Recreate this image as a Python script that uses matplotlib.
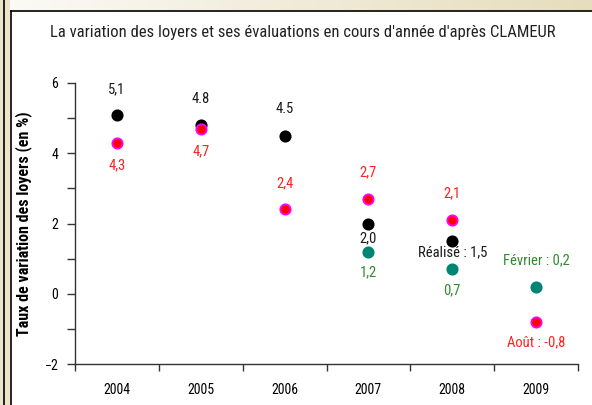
import numpy as np
import matplotlib
matplotlib.use("Agg")
import matplotlib.pyplot as plt
from matplotlib.lines import Line2D
from matplotlib.patches import Rectangle

plt.rcParams['font.family'] = ['Roboto Condensed', 'DejaVu Sans']

# data
years = ["2004", "2005", "2006", "2007", "2008", "2009"]
realise = [5.1, 4.8, 4.5, 2.0, 1.5, None]
aout = [4.3, 4.7, 2.4, 2.7, 2.1, -0.8]
fevrier = [None, None, None, 1.2, 0.7, 0.2]

realise_labels = ["5,1", "4.8", "4.5", "2,0", "Réalisé : 1,5", None]
aout_labels = ["4,3", "4,7", "2,4", "2,7", "2,1", "Août : -0,8"]
fevrier_labels = [None, None, None, "1,2", "0,7", "Février : 0,2"]

# label offsets (points): positive = above
realise_off = [18, 19, 19, -11, -8, 0]
aout_off = [-16, -16, 19, 19, 19, -15]
fevrier_off = [0, 0, 0, -15, -15, 19]

W, H = 592, 405
fig = plt.figure(figsize=(W / 100, H / 100), dpi=100)
fig.patch.set_facecolor("white")

# frame decoration: beige strip left, gradient bar top
beige = "#ece5cc"
fig.patches.append(Rectangle((0, 0), 10 / W, 1, transform=fig.transFigure,
                             facecolor=beige, edgecolor="none", zorder=0))
grad_ax = fig.add_axes([10 / W, 1 - 11 / H, 1 - 10 / W, 11 / H])
grad = np.linspace(0, 1, 256).reshape(1, -1)
cmap = matplotlib.colors.LinearSegmentedColormap.from_list("bg", ["#fbfaf5", "#e6ddbd"])
grad_ax.imshow(grad, aspect="auto", cmap=cmap, extent=[0, 1, 0, 1])
grad_ax.set_axis_off()
fig.lines.append(Line2D([3.5 / W, 3.5 / W], [0, 1], transform=fig.transFigure,
                        color="black", lw=1.2))
fig.lines.append(Line2D([10.5 / W, 10.5 / W], [0, 1 - 11 / H], transform=fig.transFigure,
                        color="black", lw=1.2))
fig.lines.append(Line2D([10.5 / W, 1], [1 - 11 / H, 1 - 11 / H], transform=fig.transFigure,
                        color="black", lw=1.2))

ax = fig.add_axes([75 / W, 1 - 364 / H, (578 - 75) / W, (364 - 83) / H])
x = np.arange(len(years))


def plot_series(vals, labels, offs, face, edge, tcolor):
    xs = [i for i, v in enumerate(vals) if v is not None]
    ys = [v for v in vals if v is not None]
    ax.scatter(xs, ys, s=55, c=face, edgecolors=edge, linewidths=1.3, zorder=3)
    for i, v in enumerate(vals):
        if v is None or labels[i] is None:
            continue
        ax.annotate(labels[i], (i, v), xytext=(0, offs[i]), textcoords="offset points",
                    ha="center", va="center", fontsize=10.5, color=tcolor)


plot_series(realise, realise_labels, realise_off, "black", "black", "#1a1a1a")
plot_series(aout, aout_labels, aout_off, "#ff0000", "#ff00ff", "#ff2020")
plot_series(fevrier, fevrier_labels, fevrier_off, "#008575", "#008575", "#2e8b2e")

ax.set_xlim(-0.5, len(years) - 0.5)
ax.set_ylim(-2, 6)
ax.set_yticks([-2, 0, 2, 4, 6])
ax.set_yticks([-1, 1, 3, 5], minor=True)
ax.tick_params(axis="y", which="both", length=6, width=1, labelsize=10, pad=6,
               color="#333333")
ax.set_xticks(x)
ax.set_xticklabels(years)
ax.set_xticks(np.arange(len(years) + 1) - 0.5, minor=True)
ax.tick_params(axis="x", which="major", length=0, labelsize=10, pad=14)
ax.tick_params(axis="x", which="minor", length=5, width=1, color="#333333")
for s in ["top", "right"]:
    ax.spines[s].set_visible(False)
for s in ["left", "bottom"]:
    ax.spines[s].set_linewidth(1)
    ax.spines[s].set_color("#333333")
ax.set_ylabel("Taux de variation des loyers (en %)", fontsize=11.5, fontweight="bold")
ax.yaxis.set_label_coords(-0.086, 0.5)

fig.text(303 / W, 1 - 33 / H,
         "La variation des loyers et ses évaluations en cours d'année d'après CLAMEUR",
         ha="center", va="center", fontsize=12, color="#222222")

fig.savefig("out.png", dpi=100)
